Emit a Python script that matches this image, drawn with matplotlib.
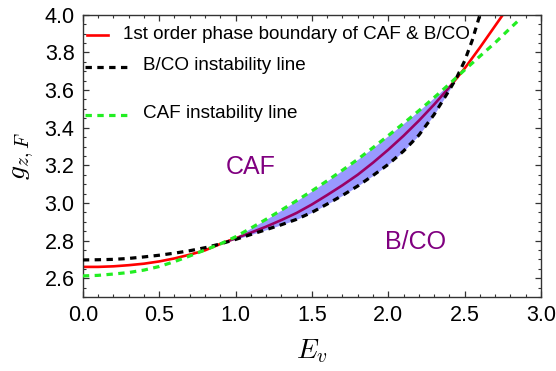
import matplotlib
matplotlib.use("Agg")
import matplotlib.pyplot as plt
import numpy as np
from matplotlib.ticker import MultipleLocator

plt.rcParams['font.family'] = ['Liberation Sans', 'DejaVu Sans']
plt.rcParams['mathtext.fontset'] = 'cm'

# ---- data ----
x_red = [0.0, 0.1, 0.2, 0.3, 0.4, 0.5, 0.6, 0.7, 0.8, 0.9, 1.0, 1.1, 1.2, 1.3, 1.4, 1.5,
         1.6, 1.7, 1.8, 1.9, 2.0, 2.1, 2.2, 2.3, 2.4, 2.5, 2.6, 2.7, 2.75]
y_red = [2.660, 2.660, 2.663, 2.669, 2.677, 2.689, 2.705, 2.725, 2.748, 2.782, 2.812, 2.842,
         2.874, 2.909, 2.947, 2.992, 3.042, 3.094, 3.150, 3.214, 3.283, 3.357, 3.437, 3.523,
         3.615, 3.715, 3.826, 3.942, 4.000]

x_bco = [0.0, 0.1, 0.2, 0.3, 0.4, 0.5, 0.6, 0.7, 0.8, 0.9, 1.0, 1.1, 1.2, 1.3, 1.4, 1.5,
         1.6, 1.7, 1.8, 1.9, 2.0, 2.1, 2.2, 2.3, 2.4, 2.45, 2.5, 2.55, 2.6]
y_bco = [2.697, 2.698, 2.700, 2.705, 2.713, 2.722, 2.733, 2.746, 2.762, 2.782, 2.806, 2.832,
         2.858, 2.884, 2.913, 2.950, 2.994, 3.040, 3.090, 3.146, 3.205, 3.276, 3.360, 3.470,
         3.600, 3.670, 3.755, 3.865, 4.000]

x_caf = [0.0, 0.1, 0.2, 0.3, 0.4, 0.5, 0.6, 0.7, 0.8, 0.9, 1.0, 1.1, 1.2, 1.3, 1.4, 1.5,
         1.6, 1.7, 1.8, 1.9, 2.0, 2.1, 2.2, 2.3, 2.4, 2.45, 2.5, 2.6, 2.7, 2.8, 2.85]
y_caf = [2.612, 2.615, 2.622, 2.630, 2.643, 2.662, 2.688, 2.718, 2.750, 2.782, 2.820, 2.866,
         2.913, 2.962, 3.012, 3.064, 3.118, 3.174, 3.232, 3.294, 3.358, 3.423, 3.490, 3.560,
         3.632, 3.670, 3.707, 3.780, 3.852, 3.930, 3.968]

# coexistence (shaded) region between the two instability lines
fill_range = (0.9, 2.45)

legend_labels = ["1st order phase boundary of CAF & B/CO",
                 "B/CO instability line",
                 "CAF instability line"]
region_labels = ["CAF", "B/CO"]
region_pos = [(1.10, 3.19), (2.18, 2.79)]

xticks = [0.0, 0.5, 1.0, 1.5, 2.0, 2.5, 3.0]
yticks = [2.6, 2.8, 3.0, 3.2, 3.4, 3.6, 3.8, 4.0]

# ---- figure ----
fig = plt.figure(figsize=(5.56, 3.71), dpi=100)
ax = fig.add_axes([0.149, 0.1995, 0.824, 0.7605])

lw_d = 2.3
dash = (2.0, 1.7)
green = '#22ee22'
ax.plot(x_red, y_red, color='red', lw=1.9, zorder=2)

xb = np.array(x_bco); yb = np.array(y_bco)
xc = np.array(x_caf); yc = np.array(y_caf)
mb = (xb >= fill_range[0] - 1e-9) & (xb <= fill_range[1] + 1e-9)
mc = (xc >= fill_range[0] - 1e-9) & (xc <= fill_range[1] + 1e-9)
ax.fill_between(xb[mb], yb[mb], yc[mc], color='blue', alpha=0.4, lw=0, zorder=3)

ax.plot(x_bco, y_bco, color='black', lw=lw_d, dashes=dash, zorder=4)
ax.plot(x_caf, y_caf, color=green, lw=lw_d, dashes=dash, zorder=4)

for lab, (px, py) in zip(region_labels, region_pos):
    ax.text(px, py, lab, color='purple', fontsize=18, ha='center', va='center')

# manual legend (uneven spacing as in the reference)
tr = ax.transAxes
fs_leg = 13.6
ax.plot([0.008, 0.055], [0.929, 0.929], color='red', lw=1.9, transform=tr)
ax.text(0.088, 0.929, legend_labels[0], transform=tr, fontsize=fs_leg, va='center', ha='left')
ax.plot([0.004, 0.098], [0.816, 0.816], color='black', lw=lw_d, dashes=dash, transform=tr)
ax.text(0.131, 0.822, legend_labels[1], transform=tr, fontsize=fs_leg, va='center', ha='left')
ax.plot([0.004, 0.098], [0.645, 0.645], color=green, lw=lw_d, dashes=dash, transform=tr)
ax.text(0.131, 0.652, legend_labels[2], transform=tr, fontsize=fs_leg, va='center', ha='left')

ax.set_xlim(0, 3.0)
ax.set_ylim(2.5, 4.0)
ax.set_xticks(xticks)
ax.set_yticks(yticks)
ax.set_xticklabels([f"{t:.1f}" for t in xticks])
ax.set_yticklabels([f"{t:.1f}" for t in yticks])
ax.xaxis.set_minor_locator(MultipleLocator(0.1))
ax.yaxis.set_minor_locator(MultipleLocator(0.05))
ax.tick_params(which='both', direction='in', top=True, right=True, color='#333333')
ax.tick_params(which='major', length=4, width=0.9, labelsize=15.5, pad=6)
ax.tick_params(which='minor', length=2.2, width=0.8)
for s in ax.spines.values():
    s.set_color('#333333')
    s.set_linewidth(1.0)

ax.set_xlabel(r'$E_v$', fontsize=20, labelpad=8)
ax.set_ylabel(r'$g_{z,F}$', fontsize=20, labelpad=6)

fig.savefig('out.png', dpi=100)
